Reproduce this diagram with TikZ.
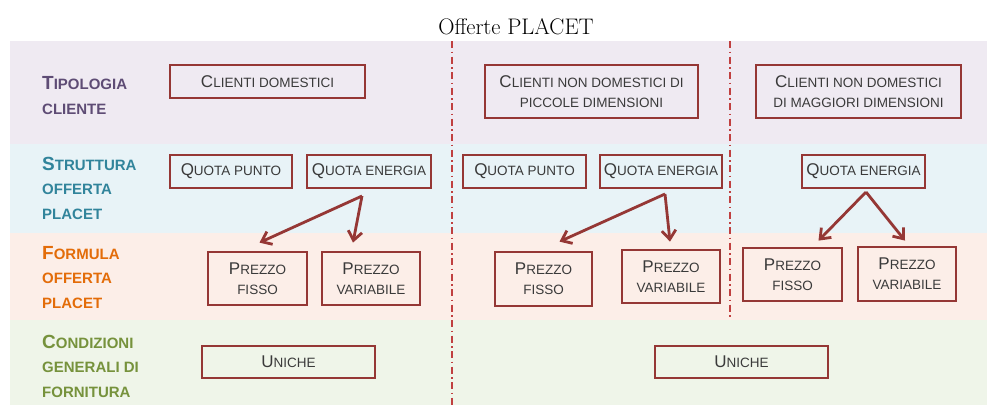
\documentclass[tikz,border=0pt]{standalone}
\usepackage{fontspec}
\setmainfont{Latin Modern Roman}
\newfontfamily\arialf{Liberation Sans}
\usetikzlibrary{arrows.meta}
\definecolor{bandA}{RGB}{239,234,242}
\definecolor{bandB}{RGB}{232,243,247}
\definecolor{bandC}{RGB}{252,238,232}
\definecolor{bandD}{RGB}{239,245,233}
\definecolor{boxred}{RGB}{149,55,53}
\definecolor{sepred}{RGB}{192,64,64}
\definecolor{txtgray}{RGB}{58,58,58}
\definecolor{labA}{RGB}{94,76,117}
\definecolor{labB}{RGB}{49,132,155}
\definecolor{labC}{RGB}{227,108,9}
\definecolor{labD}{RGB}{118,146,60}
\newcommand{\bgl}[1]{{\fontsize{17}{20}\selectfont #1}}
\newcommand{\labbig}[1]{{\fontsize{19}{24.5}\selectfont #1}}
\begin{document}
\begin{tikzpicture}[x=1pt,y=-1pt,
  boxn/.style={draw=boxred, line width=2.8pt, inner sep=0pt, align=center,
    text=txtgray, font=\arialf\fontsize{13.5}{20}\selectfont},
  labn/.style={anchor=base west, inner sep=0pt, align=left,
    font=\arialf\bfseries\fontsize{15}{24.5}\selectfont},
  arr/.style={draw=boxred, line width=2.8pt, -{Straight Barb[length=9pt,width=14pt,line width=2.8pt]}},
  sepline/.style={draw=sepred, line width=2pt, dash pattern=on 7pt off 3.5pt on 1.5pt off 3.5pt}
]
\useasboundingbox (0,0) rectangle (1001,413);
\fill[white] (0,0) rectangle (1001,413);
% bands
\fill[bandA] (10,41) rectangle (987,144);
\fill[bandB] (10,144) rectangle (987,233);
\fill[bandC] (10,233) rectangle (987,320);
\fill[bandD] (10,320) rectangle (987,405);
% title
\node[font=\fontsize{22.5}{26}\selectfont] (title) at (516,27) {Offerte PLACET};
% separators
\draw[sepline] (452,41) -- (452,405);
\draw[sepline] (730,41) -- (730,319);
% left labels (anchor at baseline of last line)
\node[labn, text=labA] (lA) at (42,114) {\labbig{T}IPOLOGIA\\CLIENTE};
\node[labn, text=labB] (lB) at (42,219) {\labbig{S}TRUTTURA\\OFFERTA\\PLACET};
\node[labn, text=labC] (lC) at (42,308) {\labbig{F}ORMULA\\OFFERTA\\PLACET};
\node[labn, text=labD] (lD) at (42,397) {\labbig{C}ONDIZIONI\\GENERALI DI\\FORNITURA};
% row 1
\node[boxn, minimum width=195pt, minimum height=33pt] (cd) at (267.5,81.5) {\bgl{C}LIENTI DOMESTICI};
\node[boxn, minimum width=213pt, minimum height=53pt] (cnp) at (591.5,91.5) {\bgl{C}LIENTI NON DOMESTICI DI\\PICCOLE DIMENSIONI};
\node[boxn, minimum width=205pt, minimum height=53pt] (cnm) at (858.5,91.5) {\bgl{C}LIENTI NON DOMESTICI\\DI MAGGIORI DIMENSIONI};
% row 2
\node[boxn, minimum width=122pt, minimum height=33pt] (qp1) at (231,171.5) {\bgl{Q}UOTA PUNTO};
\node[boxn, minimum width=124pt, minimum height=33pt] (qe1) at (369,171.5) {\bgl{Q}UOTA ENERGIA};
\node[boxn, minimum width=123pt, minimum height=33pt] (qp2) at (524.5,171.5) {\bgl{Q}UOTA PUNTO};
\node[boxn, minimum width=122pt, minimum height=33pt] (qe2) at (661,171.5) {\bgl{Q}UOTA ENERGIA};
\node[boxn, minimum width=123pt, minimum height=33pt] (qe3) at (863.5,171.5) {\bgl{Q}UOTA ENERGIA};
% row 3
\node[boxn, minimum width=99pt, minimum height=53pt] (pf1) at (257.5,278.5) {\bgl{P}REZZO\\FISSO};
\node[boxn, minimum width=98pt, minimum height=53pt] (pv1) at (371,278.5) {\bgl{P}REZZO\\VARIABILE};
\node[boxn, minimum width=97pt, minimum height=54pt] (pf2) at (543.5,279) {\bgl{P}REZZO\\FISSO};
\node[boxn, minimum width=98pt, minimum height=53pt] (pv2) at (671,276.5) {\bgl{P}REZZO\\VARIABILE};
\node[boxn, minimum width=99pt, minimum height=53pt] (pf3) at (792.5,274.5) {\bgl{P}REZZO\\FISSO};
\node[boxn, minimum width=98pt, minimum height=54pt] (pv3) at (907,274) {\bgl{P}REZZO\\VARIABILE};
% row 4
\node[boxn, minimum width=173pt, minimum height=32pt] (u1) at (288.5,362) {\bgl{U}NICHE};
\node[boxn, minimum width=173pt, minimum height=32pt] (u2) at (741.5,362) {\bgl{U}NICHE};
% arrows
\coordinate (o1) at (362,196);
\coordinate (o2) at (665,194);
\coordinate (o3) at (866,192);
\draw[arr] (o1) -- ([xshift=2pt,yshift=8pt]pf1.north);
\draw[arr] (o1) -- ([xshift=-18pt,yshift=8pt]pv1.north);
\draw[arr] (o2) -- ([xshift=16pt,yshift=9pt]pf2.north);
\draw[arr] (o2) -- ([xshift=-1pt,yshift=7pt]pv2.north);
\draw[arr] (o3) -- ([xshift=26pt,yshift=6pt]pf3.north);
\draw[arr] (o3) -- ([xshift=-2pt,yshift=5pt]pv3.north);
\end{tikzpicture}
\end{document}
